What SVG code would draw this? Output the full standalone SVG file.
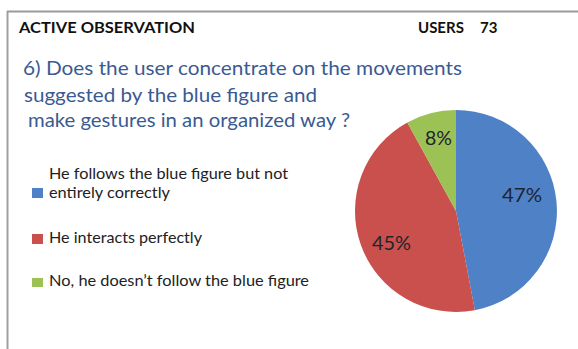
<svg xmlns="http://www.w3.org/2000/svg" width="578" height="349" viewBox="0 0 578 349">
<style>
.t{font-family:Lato,"Open Sans","Liberation Sans",sans-serif}
.hd{font-size:15px;font-weight:bold;fill:#111}
.q{font-size:20px;fill:#3A5A92}
.lg{font-size:15px;fill:#222}
.pl{font-size:19px;fill:#1E2430}
</style>
<rect x="0" y="0" width="578" height="349" fill="#ffffff"/>
<g id="frame">
<line x1="7" y1="11.5" x2="578" y2="11.5" stroke="#9a9a9a" stroke-width="2"/>
<line x1="7.5" y1="11" x2="7.5" y2="349" stroke="#a0a0a0" stroke-width="2"/>
</g>
<g id="header">
<text class="t hd" x="19" y="33" textLength="176" lengthAdjust="spacingAndGlyphs">ACTIVE OBSERVATION</text>
<text class="t hd" x="418" y="33">USERS <tspan x="480">73</tspan></text>
</g>
<g id="question">
<text class="t q" x="23" y="75" textLength="439" lengthAdjust="spacingAndGlyphs">6) Does the user concentrate on the movements</text>
<text class="t q" x="24" y="102" textLength="293" lengthAdjust="spacingAndGlyphs">suggested by the blue figure and</text>
<text class="t q" x="28" y="127" textLength="322" lengthAdjust="spacingAndGlyphs">make gestures in an organized way ?</text>
</g>
<g id="legend">
<rect x="32" y="188" width="11" height="10" fill="#4F81C6"/>
<text class="t lg" x="49" y="179" textLength="239" lengthAdjust="spacingAndGlyphs">He follows the blue figure but not</text>
<text class="t lg" x="49" y="198" textLength="121" lengthAdjust="spacingAndGlyphs">entirely correctly</text>
<rect x="32" y="234" width="11" height="10" fill="#C9504C"/>
<text class="t lg" x="49" y="243" textLength="153" lengthAdjust="spacingAndGlyphs">He interacts perfectly</text>
<rect x="32" y="278" width="11" height="9" fill="#9CC154"/>
<text class="t lg" x="49" y="286" textLength="260" lengthAdjust="spacingAndGlyphs">No, he doesn’t follow the blue figure</text>
</g>
<g id="pie">
<path d="M456,211 L456,110 A101,101 0 0 1 474.9,310.2 Z" fill="#4F81C6"/>
<path d="M456,211 L474.9,310.2 A101,101 0 0 1 407.3,122.5 Z" fill="#C9504C"/>
<path d="M456,211 L407.3,122.5 A101,101 0 0 1 456,110 Z" fill="#9CC154"/>
<text class="t pl" x="425" y="145" textLength="27" lengthAdjust="spacingAndGlyphs">8%</text>
<text class="t pl" x="502" y="202" textLength="40" lengthAdjust="spacingAndGlyphs" fill="#1B2A48">47%</text>
<text class="t pl" x="372" y="250" textLength="39" lengthAdjust="spacingAndGlyphs">45%</text>
</g>
</svg>
